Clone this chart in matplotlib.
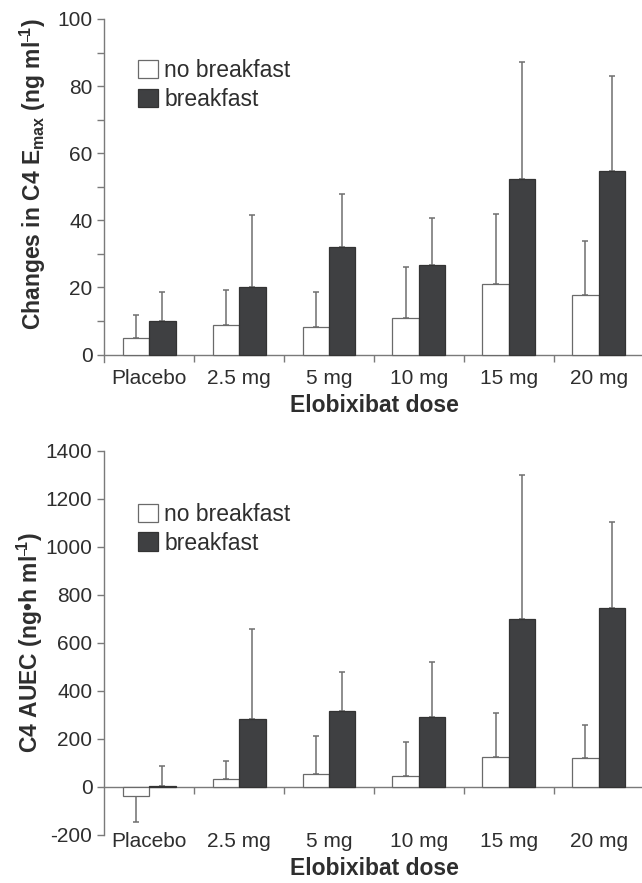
import numpy as np
import matplotlib
matplotlib.use("Agg")
import matplotlib.pyplot as plt

plt.rcParams['font.family'] = ['Liberation Sans', 'DejaVu Sans']
plt.rcParams['mathtext.fontset'] = 'custom'
plt.rcParams['mathtext.rm'] = 'Liberation Sans:bold'
plt.rcParams['mathtext.bf'] = 'Liberation Sans:bold'
plt.rcParams['mathtext.default'] = 'bf'
plt.rcParams['axes.unicode_minus'] = False

# ---- data ----
doses = ["Placebo", "2.5 mg", "5 mg", "10 mg", "15 mg", "20 mg"]
series_names = ["no breakfast", "breakfast"]

emax_nobf = [5.0, 8.8, 8.2, 11.0, 21.0, 17.8]
emax_nobf_sd = [6.8, 10.5, 10.6, 15.0, 20.9, 16.2]
emax_bf = [10.0, 20.2, 32.1, 26.8, 52.3, 54.7]
emax_bf_sd = [8.6, 21.3, 15.9, 13.8, 34.9, 28.3]

auec_nobf = [-39, 33, 54, 47, 125, 121]
auec_nobf_sd = [105, 75, 158, 140, 183, 136]
auec_bf = [5, 283, 316, 291, 699, 745]
auec_bf_sd = [81, 377, 163, 229, 603, 358]

W, H = 642, 883
fig = plt.figure(figsize=(W / 100, H / 100), dpi=100)

AX_COL = '#7a7a7a'
TXT = '#2e2e2e'
DARK = '#3f4042'
ERR = '#6f6f6f'
TICK_FS = 15
LAB_FS = 16.5
LEG_FS = 16.5


def panel(rect, nobf, nobf_sd, bf, bf_sd, ylim, major, minor, leg_anchor):
    ax = fig.add_axes(rect)
    x = np.arange(len(doses))
    bw = 0.294
    vals = [np.array(nobf, float), np.array(bf, float)]
    sds = [np.array(nobf_sd, float), np.array(bf_sd, float)]
    faces = ['white', DARK]
    edges = ['#6a6a6a', '#333333']
    offs = [-bw / 2, bw / 2]
    for v, s, fc, ec, o, name in zip(vals, sds, faces, edges, offs, series_names):
        ax.bar(x + o, v, width=bw, color=fc, edgecolor=ec, linewidth=0.9,
               label=name, zorder=3)
        lower = np.where(v < 0, s, 0)
        upper = np.where(v >= 0, s, 0)
        ax.errorbar(x + o, v, yerr=[lower, upper], fmt='none', ecolor=ERR,
                    elinewidth=1.1, capsize=2.2, capthick=1.1, zorder=2)
    ax.set_xlim(-0.5, len(doses) - 0.5)
    ax.set_ylim(*ylim)
    ax.set_yticks(major)
    ax.set_yticks(minor, minor=True)
    ax.tick_params(axis='y', which='both', direction='out', length=5,
                   width=1, color=AX_COL, labelsize=TICK_FS, labelcolor=TXT,
                   pad=3.5)
    for side in ['top', 'right', 'bottom']:
        ax.spines[side].set_visible(False)
    ax.spines['left'].set_color(AX_COL)
    ax.spines['left'].set_linewidth(1)
    ax.set_xticks(x)
    ax.set_xticklabels(doses)
    ax.patch.set_alpha(0)

    # zero line with group-boundary ticks
    frac0 = (0 - ylim[0]) / (ylim[1] - ylim[0])
    sec = ax.secondary_xaxis(frac0)
    sec.set_xticks(np.arange(len(doses) - 1) + 0.5)
    sec.set_xticklabels([])
    sec.tick_params(direction='out', length=5, width=1, color=AX_COL)
    sec.spines['bottom'].set_color(AX_COL)
    sec.spines['bottom'].set_linewidth(1)

    leg = ax.legend(loc='upper left', bbox_to_anchor=leg_anchor, frameon=False,
                    fontsize=LEG_FS, handlelength=0.88, handleheight=0.85,
                    handletextpad=0.28, labelspacing=0.25, borderpad=0,
                    borderaxespad=0)
    for t in leg.get_texts():
        t.set_color(TXT)
    return ax


ax1 = panel([104.3 / W, (H - 362) / H, 539.3 / W, 343 / H],
            emax_nobf, emax_nobf_sd, emax_bf, emax_bf_sd,
            (-2.2, 100), np.arange(0, 101, 20), np.arange(10, 100, 20),
            (0.062, 0.883))
ax1.tick_params(axis='x', length=0, labelsize=TICK_FS, labelcolor=TXT, pad=5)
ax1.set_xlabel('Elobixibat dose', fontsize=LAB_FS, fontweight='bold', color=TXT,
               labelpad=4)

ax2 = panel([104.3 / W, (H - 835) / H, 539.3 / W, 384 / H],
            auec_nobf, auec_nobf_sd, auec_bf, auec_bf_sd,
            (-200, 1400), np.arange(-200, 1401, 200), [],
            (0.062, 0.865))
ax2.tick_params(axis='x', length=0, labelsize=TICK_FS, labelcolor=TXT, pad=-2)
ax2.set_xlabel('Elobixibat dose', fontsize=LAB_FS, fontweight='bold', color=TXT,
               labelpad=4)

fig.text(33 / W, 1 - 174 / H, r'Changes in C4 E$_{\mathrm{max}}$ (ng ml$^{\mathbf{\overline{\ }1}}$)',
         rotation=90, ha='center', va='center', fontsize=LAB_FS,
         fontweight='bold', color=TXT)
fig.text(30 / W, 1 - 643 / H, 'C4 AUEC (ng\u2022h ml$^{\\mathbf{\\overline{\\ }1}}$)',
         rotation=90, ha='center', va='center', fontsize=LAB_FS,
         fontweight='bold', color=TXT)

fig.savefig('out.png', dpi=100)
